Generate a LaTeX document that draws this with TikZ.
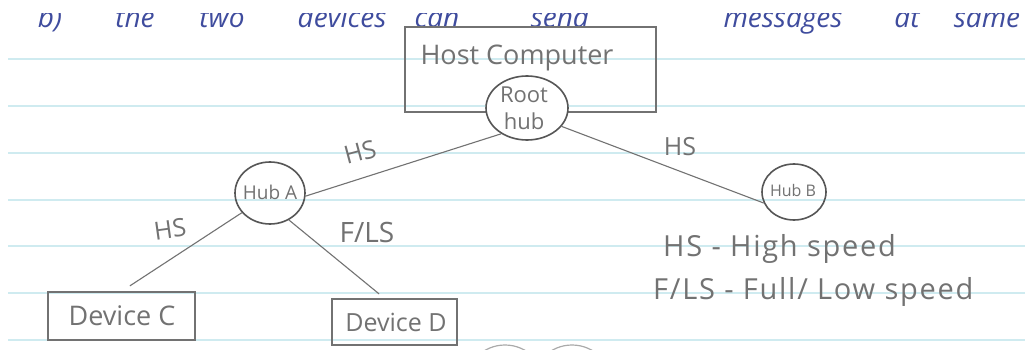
\documentclass[tikz,border=0pt]{standalone}
\usepackage{fontspec}
\setmainfont{Open Sans}
\usetikzlibrary{shapes.geometric}
\definecolor{pencil}{HTML}{727272}
\definecolor{pencildark}{HTML}{565656}
\definecolor{ruling}{HTML}{CFEBF0}
\definecolor{ink}{HTML}{3F4C9E}
\newcommand{\fs}[1]{\fontsize{#1}{#1}\selectfont}

\begin{document}
\begin{tikzpicture}[x=1pt,y=-1pt,
  hwtext/.style={text=pencil, inner sep=0pt},
  widetext/.style={hwtext, font=\fs{29}\addfontfeature{LetterSpace=6}},
  boxnode/.style={draw=pencil, line width=1.3pt, rectangle, inner sep=0pt},
  hubnode/.style={draw=pencildark, line width=1.6pt, ellipse, inner sep=0pt},
  wire/.style={draw=pencil, line width=1.1pt},
  ruleline/.style={draw=ruling, line width=1.8pt},
  inkword/.style={text=ink, font=\itshape\fs{28}, anchor=base, inner sep=0pt}]

\useasboundingbox (0,0) rectangle (1025,350);
\clip (0,0) rectangle (1025,350);
\fill[white] (0,0) rectangle (1025,350);

% notebook ruling
\foreach \yy in {59,106,153,200,246,293,340}
  \draw[ruleline] (8,\yy) -- (1025,\yy);

% line of notes above the sketch, cut at the top edge
\node[inkword] (w1) at (50,28) {b)};
\node[inkword] (w2) at (135,28) {the};
\node[inkword] (w3) at (222,28) {two};
\node[inkword] (w4) at (342,28) {devices};
\node[inkword] (w5) at (437,28) {can};
\node[inkword] (w6) at (560,28) {send};
\node[inkword] (w7) at (783,28) {messages};
\node[inkword] (w8) at (907,28) {at};
\node[inkword] (w9) at (987,28) {same};
\fill[white] (0,0) rectangle (1025,13);

% host computer with its root hub
\node[boxnode, minimum width=251pt, minimum height=85pt] (host) at (530.5,69.5) {};
\node[hwtext, font=\fs{27}] (hosttext) at (517,58) {Host Computer};
\node[hubnode, fill=white, minimum width=82pt, minimum height=64pt] (root) at (527,108) {};
\node[hwtext, font=\fontsize{22}{27}\selectfont, align=center] (roottext) at (524,108) {Root\\hub};

% hubs
\node[hubnode, minimum width=70pt, minimum height=62pt] (hubA) at (270,193) {};
\node[hwtext, font=\fs{19}] (hubAtext) at (270,192) {Hub A};
\node[hubnode, minimum width=64pt, minimum height=56pt] (hubB) at (794,192) {};
\node[hwtext, font=\fs{16}] (hubBtext) at (793,190) {Hub B};

% devices
\node[boxnode, minimum width=147pt, minimum height=48pt] (devC) at (121.5,316) {};
\node[hwtext, font=\fs{27}] (devCtext) at (122,316) {Device C};
\node[boxnode, minimum width=125pt, minimum height=46pt] (devD) at (394.5,322) {};
\node[hwtext, font=\fs{25}] (devDtext) at (396,322) {Device D};

% connections
\draw[wire] (root.225) -- (hubA.355);
\draw[wire] (root.-28) -- (hubB.200);
\draw[wire, shorten >=10pt] (hubA.215) -- (devC.north);
\draw[wire, shorten >=7pt] (hubA.-55) -- ([xshift=-10pt]devD.north);

% link speeds
\node[hwtext, font=\fs{25}, rotate=15] (spdA) at (360,152) {HS};
\node[hwtext, font=\fs{25}] (spdB) at (680,147) {HS};
\node[hwtext, font=\fs{25}, rotate=8] (spdC) at (170,229) {HS};
\node[hwtext, font=\fs{28}] (spdD) at (367,232) {F/LS};

% key
\node[widetext, anchor=west] (key1) at (663,249) {HS - High speed};
\node[widetext, anchor=west] (key2) at (653,292) {F/LS - Full/ Low speed};

% start of the next sketch below
\draw[pencil!60, line width=1.2pt] (505,385) circle[radius=40pt];
\draw[pencil!60, line width=1.2pt] (572,385) circle[radius=40pt];
\end{tikzpicture}
\end{document}
